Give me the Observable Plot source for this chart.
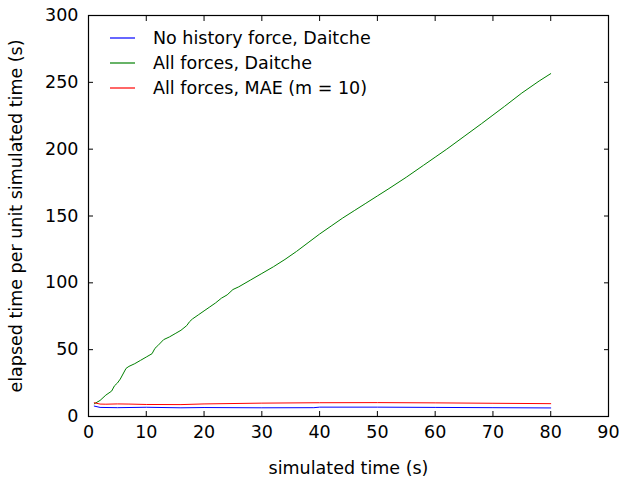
<!DOCTYPE html>
<html>
<head>
<meta charset="utf-8">
<script src="https://cdn.jsdelivr.net/npm/d3@7"></script>
<script src="https://cdn.jsdelivr.net/npm/@observablehq/plot@0.6"></script>
<style>
  html, body { margin: 0; padding: 0; background: #fff; }
  #wrap { position: relative; width: 619px; height: 477px; font-family: "DejaVu Sans", sans-serif; }
  #legend { position: absolute; left: 110px; top: 25px; font-size: 17.5px; color: #000; }
  .row { display: flex; align-items: center; height: 25px; }
  .sw { display: block; margin-right: 18px; }
</style>
</head>
<body>
<div id="wrap"><div id="legend"></div></div>
<script>
const seriesNames = ["No history force, Daitche", "All forces, Daitche", "All forces, MAE (m = 10)"];
const seriesColors = ["#0000ff", "#008000", "#ff0000"];

const blueX = [1, 2, 5, 10, 16, 20, 30, 39, 40, 50, 60, 70, 80];
const blueY = [7.8, 6.8, 6.6, 6.9, 6.5, 6.7, 6.5, 6.6, 7.0, 7.0, 6.8, 6.6, 6.4];

const greenX = [1, 2, 3, 4, 4.5, 5, 5.5, 6.5, 7, 8, 9, 10, 11, 11.5, 12, 13, 14, 15, 16, 17, 17.5, 18, 19, 20, 21, 22, 23, 24, 25, 26, 28, 30, 32, 34, 36, 38, 40, 42, 44, 46, 48, 50, 52, 55, 58, 60, 62, 65, 68, 70, 72, 75, 78, 80];
const greenY = [9.5, 12, 16, 19, 23, 25, 28, 36, 37.5, 39.5, 42, 44.5, 47, 51, 53, 57.5, 59.5, 62, 64.5, 68, 71, 73, 76, 79, 82, 85, 88.5, 91, 95, 97, 102, 107, 112, 117.5, 123.5, 130, 136.5, 142.5, 148.5, 154, 159.5, 165, 170.5, 179, 188, 194, 200, 209.5, 219, 225.5, 232, 242, 251, 256.5];

const redX = [1, 2, 3, 5, 7, 10, 16, 20, 30, 40, 50, 60, 70, 80];
const redY = [10.3, 9.3, 9.2, 9.4, 9.3, 9.0, 8.9, 9.4, 10.0, 10.3, 10.4, 10.2, 9.9, 9.6];

const xTicks = [0, 10, 20, 30, 40, 50, 60, 70, 80, 90];
const yTicks = [0, 50, 100, 150, 200, 250, 300];
const xLabel = "simulated time (s)";
const yLabel = "elapsed time per unit simulated time (s)";

const toRows = (xs, ys, s) => xs.map((x, i) => ({x, y: ys[i], s}));
const data = [
  ...toRows(blueX, blueY, seriesNames[0]),
  ...toRows(greenX, greenY, seriesNames[1]),
  ...toRows(redX, redY, seriesNames[2])
];

const chart = Plot.plot({
  width: 619,
  height: 477,
  marginLeft: 88,
  marginRight: 11,
  marginTop: 15,
  marginBottom: 61,
  style: {fontFamily: "DejaVu Sans, sans-serif", fontSize: "17.5px", background: "#fff", color: "#000"},
  x: {domain: [0, 90]},
  y: {domain: [0, 300]},
  color: {domain: seriesNames, range: seriesColors},
  marks: [
    Plot.line(data, {x: "x", y: "y", z: "s", stroke: "s", strokeWidth: 1}),
    Plot.frame({stroke: "#000", strokeWidth: 1.2}),
    Plot.axisX({anchor: "bottom", ticks: xTicks, tickSize: -5, tickPadding: 14, fontSize: 17.5,
      label: xLabel, labelAnchor: "center", labelOffset: 57, labelArrow: false}),
    Plot.axisX({anchor: "top", ticks: xTicks, tickSize: -5, tickFormat: () => "", label: null}),
    Plot.axisY({anchor: "left", ticks: yTicks, tickSize: -5, tickPadding: 15, fontSize: 17.5,
      label: yLabel, labelAnchor: "center", labelOffset: 79, labelArrow: false}),
    Plot.axisY({anchor: "right", ticks: yTicks, tickSize: -5, tickFormat: () => "", label: null})
  ]
});
document.getElementById("wrap").prepend(chart);

const legend = document.getElementById("legend");
const svgNS = "http://www.w3.org/2000/svg";
seriesNames.forEach((n, i) => {
  const row = document.createElement("div");
  row.className = "row";
  const sw = document.createElementNS(svgNS, "svg");
  sw.setAttribute("width", "25");
  sw.setAttribute("height", "6");
  sw.setAttribute("class", "sw");
  const ln = document.createElementNS(svgNS, "line");
  ln.setAttribute("x1", "0"); ln.setAttribute("x2", "25");
  ln.setAttribute("y1", "3"); ln.setAttribute("y2", "3");
  ln.setAttribute("stroke", seriesColors[i]);
  ln.setAttribute("stroke-width", "1.2");
  sw.append(ln);
  const t = document.createElement("span");
  t.textContent = n;
  row.append(sw, t);
  legend.append(row);
});
</script>
</body>
</html>
